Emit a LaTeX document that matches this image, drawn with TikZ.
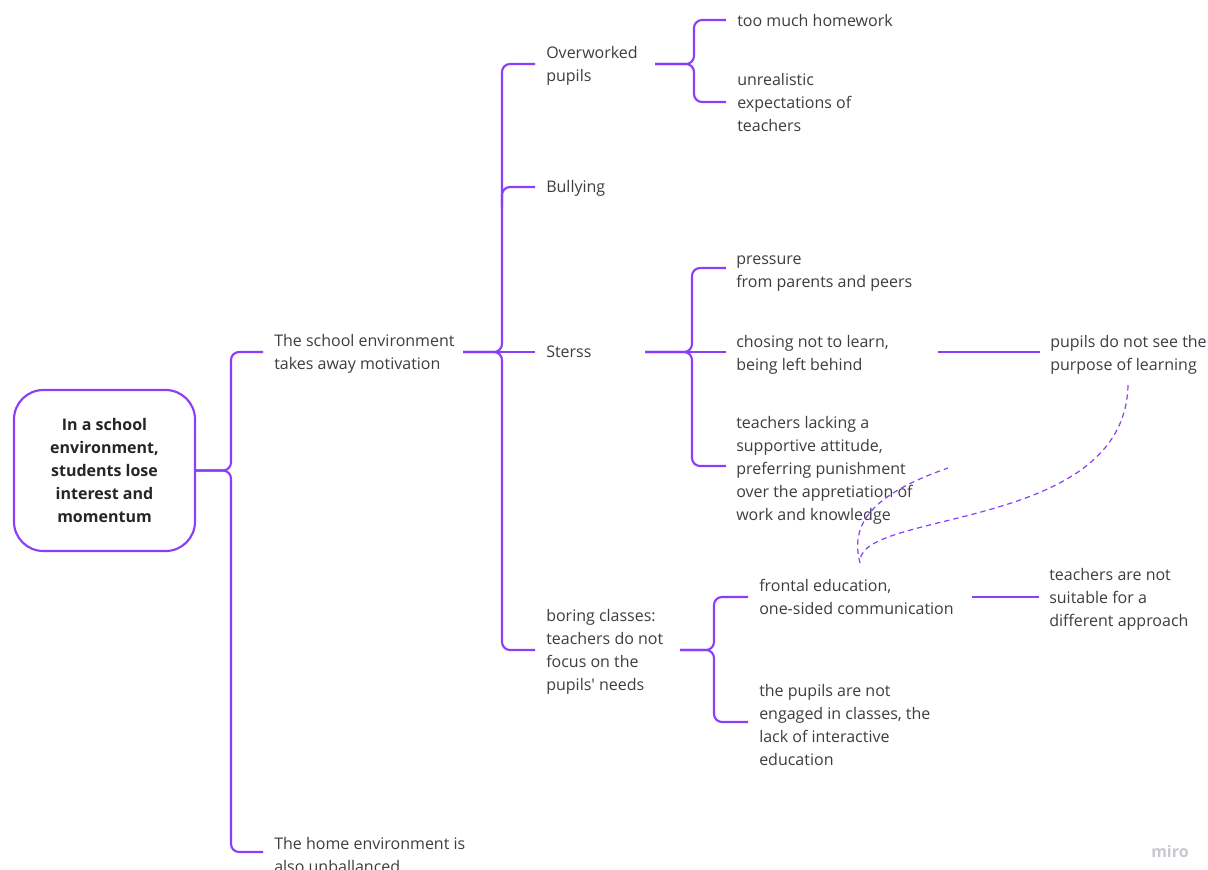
\documentclass[tikz,border=0pt]{standalone}
\usepackage{fontspec}
\setmainfont{Open Sans}[Ligatures=TeXOff]
\usetikzlibrary{calc}
\definecolor{mpurple}{RGB}{138,62,250}
\definecolor{txt}{RGB}{62,62,66}
\definecolor{logo}{RGB}{200,200,208}
\begin{document}
\begin{tikzpicture}[x=0.75pt,y=-0.75pt,
  link/.style={draw=mpurple,line width=1.6pt,rounded corners=6pt},
  dlink/.style={draw=mpurple,line width=0.9pt,dash pattern=on 4pt off 3pt},
  tx/.style={anchor=west,inner sep=0pt,align=left,text=txt,font=\fontsize{12}{17.25}\selectfont},
  rootbox/.style={draw=mpurple,line width=1.6pt,rounded corners=22pt,minimum width=135.75pt,minimum height=120.75pt,align=center,text=black!85,font=\fontsize{12}{17.25}\selectfont\bfseries}]
\clip (0,0) rectangle (1208,869);
\fill[white] (0,0) rectangle (1208,869);

% nodes
\node[rootbox] (root) at (104.5,470.5) {In a school\\environment,\\students lose\\interest and\\momentum};
\node[tx] (school) at (274,354) {The school environment\\takes away motivation};
\node[tx] (home) at (274,855) {The home environment is\\also unballanced};
\node[tx] (over) at (546,66) {Overworked\\pupils};
\node[tx] (bully) at (546,188) {Bullying};
\node[tx] (sterss) at (546,352) {Sterss};
\node[tx] (boring) at (546,652) {boring classes:\\teachers do not\\focus on the\\pupils' needs};
\node[tx] (homework) at (737,20) {too much homework};
\node[tx] (unreal) at (737,102.5) {unrealistic\\expectations of\\teachers};
\node[tx] (pressure) at (736,274) {pressure\\from parents and peers};
\node[tx] (chosing) at (736,355) {chosing not to learn,\\being left behind};
\node[tx] (tlack) at (736,470) {teachers lacking a\\supportive attitude,\\preferring punishment\\over the appretiation of\\work and knowledge};
\node[tx] (purpose) at (1050,355) {pupils do not see the\\purpose of learning};
\node[tx] (frontal) at (759,596.5) {frontal education,\\one-sided communication};
\node[tx] (engaged) at (759,725) {the pupils are not\\engaged in classes, the\\lack of interactive\\education};
\node[tx] (suitable) at (1049,599) {teachers are not\\suitable for a\\different approach};
\node[text=logo,inner sep=0pt,font=\fontsize{12}{12}\selectfont\bfseries] (miro) at (1170,851) {miro};

% brace spines and line starts
\coordinate (bRoot) at (231,470.5);
\coordinate (bSchool) at (502,352);
\coordinate (oSchool) at (463,352);
\coordinate (bOver) at (694,64);
\coordinate (oOver) at (655,64);
\coordinate (bSterss) at (692,352);
\coordinate (oSterss) at (645,352);
\coordinate (bBoring) at (714,650);
\coordinate (oBoring) at (680,650);
\coordinate (oChosing) at (938,352);
\coordinate (oFrontal) at (972,597);

% root brace
\draw[link] ($(school.west)+(-11,-2)$) -| (bRoot) -- (root.east);
\draw[link] ($(home.west)+(-11,-3)$) -| (bRoot) -- (root.east);

% school brace
\draw[link] ($(over.west)+(-11,-2)$) -| (bSchool) -- (oSchool);
\draw[link] ($(boring.west)+(-11,-2)$) -| (bSchool) -- (oSchool);
\draw[link] ($(sterss.west)+(-11,0)$) -- (oSchool);
\draw[link] ($(bully.west)+(-11,-1)$) -| ($(bSchool |- bully.west)+(0,19)$);

% overworked brace
\draw[link] ($(homework.west)+(-11,0)$) -| (bOver) -- (oOver);
\draw[link] ($(unreal.west)+(-11,-0.5)$) -| (bOver) -- (oOver);

% sterss brace
\draw[link] ($(pressure.west)+(-10,-6)$) -| (bSterss) -- (oSterss);
\draw[link] ($(tlack.west)+(-10,-4)$) -| (bSterss) -- (oSterss);
\draw[link] ($(chosing.west)+(-10,-3)$) -- (oSterss);

% boring brace
\draw[link] ($(frontal.west)+(-11,0.5)$) -| (bBoring) -- (oBoring);
\draw[link] ($(engaged.west)+(-11,-3)$) -| (bBoring) -- (oBoring);

% single links
\draw[link] (oChosing) -- ($(purpose.west)+(-10,-3)$);
\draw[link] (oFrontal) -- ($(suitable.west)+(-10,-2)$);

% dashed curves
\coordinate (pTop) at (1128,385);
\coordinate (fTop) at (860,560);
\coordinate (fTopB) at (860,563);
\coordinate (dEnd) at (948,468);
\draw[dlink] (pTop) .. controls (1125,530) and (865,510) .. (fTop);
\draw[dlink] (fTopB) .. controls (850,525) and (870,495) .. (dEnd);
\end{tikzpicture}
\end{document}
